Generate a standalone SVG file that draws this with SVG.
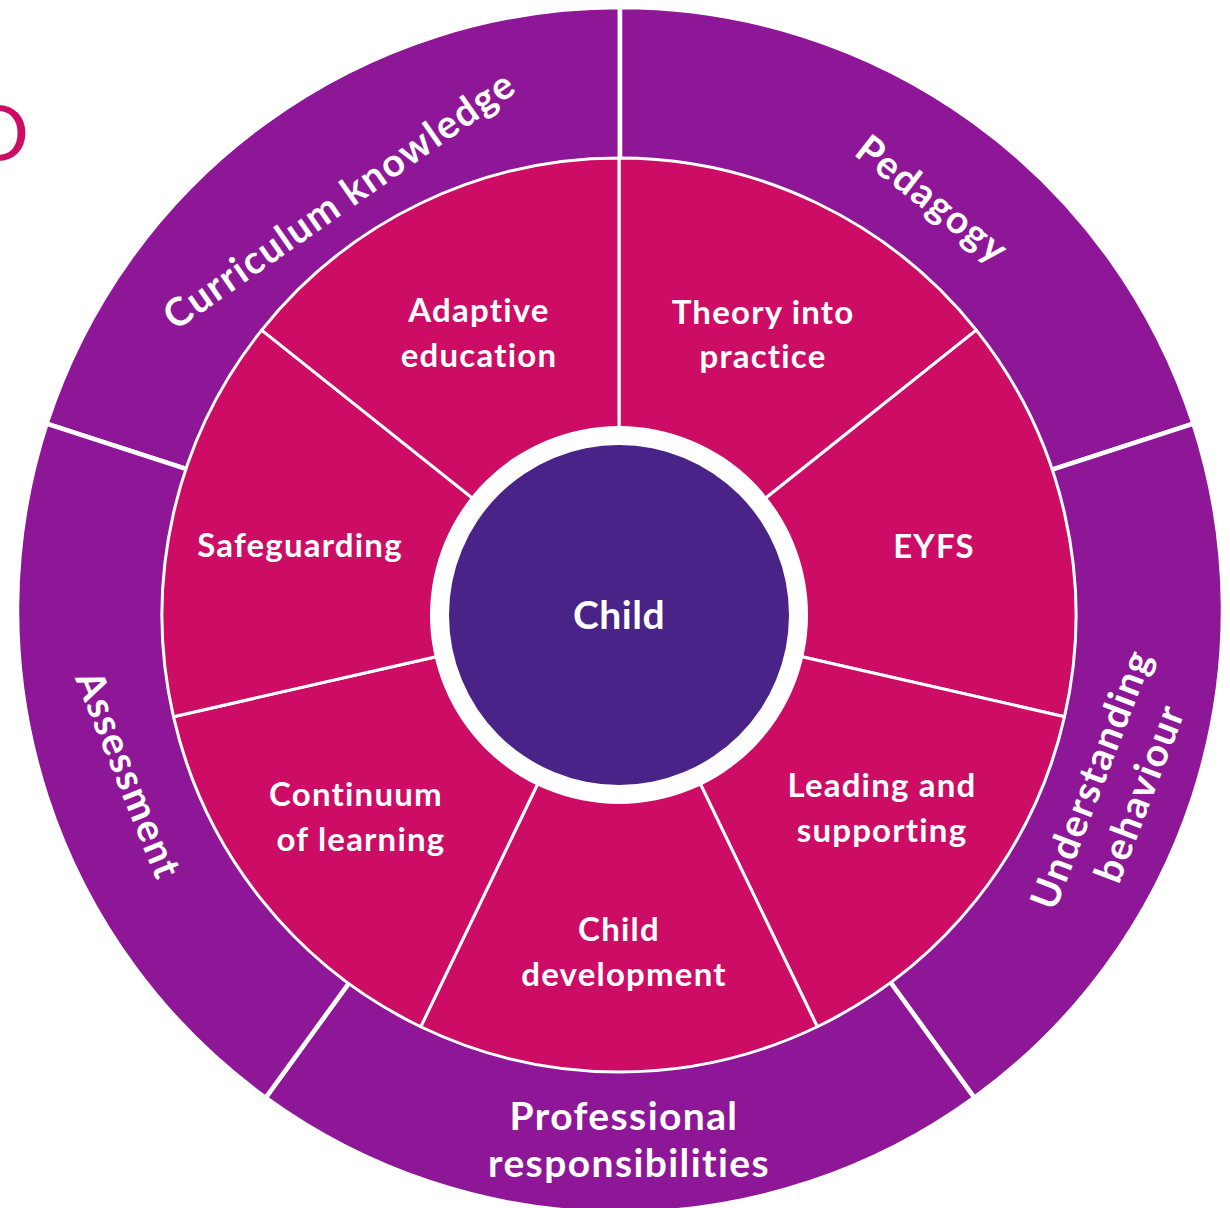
<svg xmlns="http://www.w3.org/2000/svg" width="1230" height="1208" viewBox="0 0 1230 1208">
<style>
.outer{fill:#8D1797;stroke:#fff;stroke-width:4.5;stroke-linejoin:round}
.inner{fill:#CC0C65;stroke:#fff;stroke-width:3;stroke-linejoin:round}
text{font-family:Lato,"Liberation Sans",sans-serif;font-weight:700;fill:#fff;text-anchor:middle;font-variant-ligatures:none;font-feature-settings:"liga" 0,"clig" 0}
.il{font-size:33px;letter-spacing:1.2px}
.ol{font-size:39px;letter-spacing:1.4px}
</style>
<rect width="1230" height="1208" fill="#fff"/>
<text x="29" y="161" style="font-weight:400;font-size:78px;fill:#CC0C65;text-anchor:end">D</text>

<g id="outer-ring">
  <g id="curriculum-knowledge">
    <path class="outer" d="M620 610 L46.51 423.66 A603 603 0 0 1 620 7 Z"/>
    <text class="ol" transform="translate(347,211) rotate(-35)">Curriculum knowledge</text>
  </g>
  <g id="pedagogy">
    <path class="outer" d="M620 610 L620 7 A603 603 0 0 1 1193.49 423.66 Z"/>
    <text class="ol" transform="translate(924,210) rotate(38)">Pedagogy</text>
  </g>
  <g id="understanding-behaviour">
    <path class="outer" d="M620 610 L1193.49 423.66 A603 603 0 0 1 974.43 1097.83 Z"/>
    <text class="ol" transform="translate(1104,784) rotate(-69)"><tspan x="0" y="0">Understanding</tspan><tspan x="4" y="50">behaviour</tspan></text>
  </g>
  <g id="professional-responsibilities">
    <path class="outer" d="M620 610 L974.43 1097.83 A603 603 0 0 1 265.57 1097.83 Z"/>
    <text class="ol"><tspan x="624" y="1130">Professional</tspan><tspan x="629" y="1177">responsibilities</tspan></text>
  </g>
  <g id="assessment">
    <path class="outer" d="M620 610 L265.57 1097.83 A603 603 0 0 1 46.51 423.66 Z"/>
    <text class="ol" transform="translate(116,780) rotate(68)">Assessment</text>
  </g>
</g>

<g id="inner-ring">
  <g id="theory-into-practice">
    <path class="inner" d="M619 615 L619 158 A457 457 0 0 1 976.30 330.07 Z"/>
    <text class="il"><tspan x="763" y="324">Theory into</tspan><tspan x="763" y="368">practice</tspan></text>
  </g>
  <g id="eyfs">
    <path class="inner" d="M619 615 L976.30 330.07 A457 457 0 0 1 1064.54 716.69 Z"/>
    <text class="il" x="934" y="558">EYFS</text>
  </g>
  <g id="leading-and-supporting">
    <path class="inner" d="M619 615 L1064.54 716.69 A457 457 0 0 1 817.28 1026.74 Z"/>
    <text class="il"><tspan x="882" y="797">Leading and</tspan><tspan x="882" y="842">supporting</tspan></text>
  </g>
  <g id="child-development">
    <path class="inner" d="M619 615 L817.28 1026.74 A457 457 0 0 1 420.72 1026.74 Z"/>
    <text class="il"><tspan x="619" y="941">Child</tspan><tspan x="624" y="986">development</tspan></text>
  </g>
  <g id="continuum-of-learning">
    <path class="inner" d="M619 615 L420.72 1026.74 A457 457 0 0 1 173.46 716.69 Z"/>
    <text class="il"><tspan x="356" y="806">Continuum</tspan><tspan x="361" y="851">of learning</tspan></text>
  </g>
  <g id="safeguarding">
    <path class="inner" d="M619 615 L173.46 716.69 A457 457 0 0 1 261.70 330.07 Z"/>
    <text class="il" x="300" y="557">Safeguarding</text>
  </g>
  <g id="adaptive-education">
    <path class="inner" d="M619 615 L261.70 330.07 A457 457 0 0 1 619 158 Z"/>
    <text class="il"><tspan x="479" y="322">Adaptive</tspan><tspan x="479" y="367">education</tspan></text>
  </g>
</g>

<g id="child">
  <circle cx="619" cy="615" r="189" fill="#fff"/>
  <circle cx="619" cy="615" r="170" fill="#4A2388"/>
  <text x="619" y="629" style="font-size:39px;letter-spacing:0.5px">Child</text>
</g>

<g id="connectors"/>
</svg>
